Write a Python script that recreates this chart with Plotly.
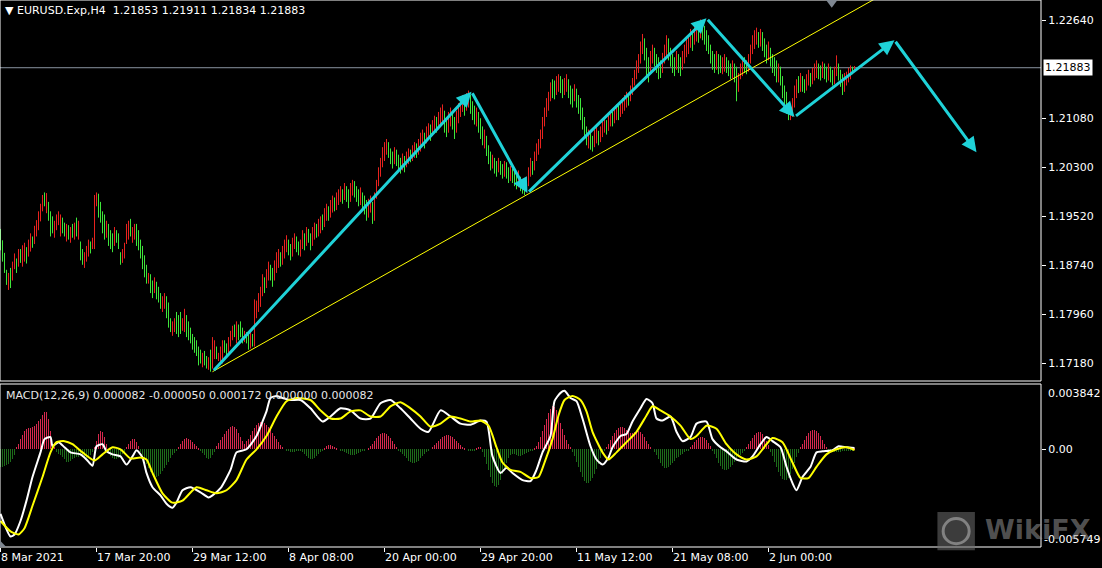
import plotly.graph_objects as go
from plotly.subplots import make_subplots

# ---------------- data ----------------
header_text = "EURUSD.Exp,H4"
last_ohlc = [1.21853, 1.21911, 1.21834, 1.21883]
current_price = 1.21883
macd_header = "MACD(12,26,9) 0.000082 -0.000050 0.000172 0.000000 0.000082"

bar_high = [
    1.1932,1.1914,1.1894,1.1867,1.1862,1.1870,1.1880,1.1893,1.1885,1.1900,
    1.1900,1.1906,1.1910,1.1903,1.1915,1.1925,1.1920,1.1937,1.1946,1.1960,
    1.1972,1.1986,1.1990,1.1989,1.1975,1.1960,1.1952,1.1945,1.1955,1.1960,
    1.1955,1.1950,1.1942,1.1940,1.1938,1.1935,1.1940,1.1942,1.1950,1.1945,
    1.1912,1.1900,1.1895,1.1905,1.1915,1.1912,1.1918,1.1986,1.1990,1.1988,
    1.1975,1.1960,1.1955,1.1945,1.1940,1.1930,1.1925,1.1935,1.1930,1.1925,
    1.1895,1.1900,1.1910,1.1940,1.1945,1.1948,1.1935,1.1940,1.1940,1.1930,
    1.1915,1.1905,1.1890,1.1875,1.1862,1.1860,1.1850,1.1855,1.1848,1.1840,
    1.1830,1.1825,1.1830,1.1825,1.1815,1.1790,1.1785,1.1790,1.1800,1.1795,
    1.1800,1.1790,1.1805,1.1795,1.1785,1.1775,1.1765,1.1760,1.1755,1.1745,
    1.1740,1.1735,1.1738,1.1730,1.1728,1.1740,1.1760,1.1755,1.1745,1.1735,
    1.1745,1.1755,1.1755,1.1750,1.1760,1.1770,1.1778,1.1780,1.1785,1.1780,
    1.1785,1.1775,1.1770,1.1768,1.1765,1.1770,1.1765,1.1820,1.1818,1.1830,
    1.1840,1.1860,1.1855,1.1868,1.1880,1.1875,1.1870,1.1882,1.1895,1.1900,
    1.1895,1.1905,1.1915,1.1922,1.1915,1.1908,1.1918,1.1925,1.1920,1.1912,
    1.1915,1.1930,1.1925,1.1935,1.1932,1.1925,1.1935,1.1942,1.1940,1.1948,
    1.1952,1.1955,1.1965,1.1972,1.1968,1.1978,1.1985,1.1982,1.1990,1.1995,
    1.2000,1.1995,1.2005,1.2000,1.1995,1.2005,1.2010,1.2008,1.2000,1.1995,
    1.1998,1.1990,1.1985,1.1978,1.1980,1.1985,1.1975,1.1990,1.2010,1.2030,
    1.2045,1.2062,1.2070,1.2075,1.2070,1.2060,1.2055,1.2062,1.2058,1.2050,
    1.2045,1.2052,1.2048,1.2055,1.2060,1.2058,1.2065,1.2070,1.2068,1.2075,
    1.2085,1.2090,1.2085,1.2095,1.2100,1.2098,1.2105,1.2112,1.2110,1.2118,
    1.2125,1.2130,1.2120,1.2110,1.2118,1.2125,1.2118,1.2110,1.2120,1.2132,
    1.2140,1.2145,1.2138,1.2148,1.2152,1.2145,1.2135,1.2128,1.2125,1.2118,
    1.2108,1.2095,1.2090,1.2080,1.2065,1.2055,1.2050,1.2045,1.2040,1.2045,
    1.2040,1.2035,1.2040,1.2038,1.2030,1.2032,1.2028,1.2025,1.2020,1.2025,
    1.2015,1.2010,1.2005,1.2015,1.2030,1.2045,1.2040,1.2055,1.2068,1.2075,
    1.2090,1.2110,1.2125,1.2140,1.2150,1.2165,1.2170,1.2168,1.2175,1.2178,
    1.2175,1.2170,1.2172,1.2178,1.2170,1.2160,1.2155,1.2162,1.2155,1.2145,
    1.2140,1.2125,1.2110,1.2095,1.2090,1.2085,1.2080,1.2090,1.2095,1.2088,
    1.2095,1.2105,1.2110,1.2105,1.2112,1.2120,1.2118,1.2125,1.2130,1.2128,
    1.2135,1.2140,1.2145,1.2150,1.2148,1.2160,1.2172,1.2185,1.2200,1.2210,
    1.2230,1.2242,1.2235,1.2220,1.2205,1.2215,1.2225,1.2220,1.2210,1.2205,
    1.2200,1.2212,1.2225,1.2240,1.2235,1.2220,1.2210,1.2205,1.2215,1.2210,
    1.2205,1.2215,1.2225,1.2235,1.2240,1.2250,1.2245,1.2255,1.2260,1.2258,
    1.2265,1.2262,1.2255,1.2248,1.2240,1.2225,1.2215,1.2210,1.2215,1.2210,
    1.2208,1.2205,1.2210,1.2205,1.2200,1.2195,1.2200,1.2195,1.2190,1.2180,
    1.2195,1.2200,1.2205,1.2200,1.2210,1.2225,1.2240,1.2248,1.2252,1.2245,
    1.2250,1.2245,1.2235,1.2225,1.2230,1.2220,1.2210,1.2205,1.2200,1.2195,
    1.2190,1.2175,1.2160,1.2150,1.2130,1.2125,1.2140,1.2160,1.2170,1.2175,
    1.2180,1.2175,1.2170,1.2178,1.2185,1.2180,1.2188,1.2195,1.2200,1.2195,
    1.2192,1.2198,1.2195,1.2190,1.2195,1.2190,1.2185,1.2190,1.2208,1.2195,
    1.2185,1.2178,1.2180,1.2182,1.2188,1.2192,1.2190,1.21911,
]
bar_low = [
    1.1898,1.1880,1.1862,1.1843,1.1835,1.1838,1.1850,1.1868,1.1862,1.1872,
    1.1878,1.1872,1.1880,1.1877,1.1888,1.1896,1.1902,1.1908,1.1920,1.1930,
    1.1944,1.1960,1.1968,1.1957,1.1945,1.1920,1.1925,1.1918,1.1930,1.1938,
    1.1920,1.1925,1.1920,1.1912,1.1915,1.1910,1.1918,1.1915,1.1920,1.1915,
    1.1882,1.1875,1.1870,1.1880,1.1888,1.1893,1.1900,1.1900,1.1968,1.1950,
    1.1942,1.1925,1.1915,1.1918,1.1905,1.1900,1.1895,1.1905,1.1910,1.1900,
    1.1875,1.1878,1.1885,1.1908,1.1915,1.1920,1.1910,1.1915,1.1905,1.1898,
    1.1885,1.1868,1.1855,1.1845,1.1845,1.1830,1.1822,1.1830,1.1820,1.1815,
    1.1805,1.1800,1.1805,1.1790,1.1775,1.1768,1.1762,1.1768,1.1765,1.1760,
    1.1765,1.1770,1.1768,1.1760,1.1755,1.1750,1.1740,1.1735,1.1730,1.1715,
    1.1718,1.1712,1.1715,1.1710,1.1708,1.1705,1.1710,1.1725,1.1725,1.1722,
    1.1720,1.1718,1.1735,1.1728,1.1735,1.1745,1.1755,1.1760,1.1750,1.1755,
    1.1760,1.1750,1.1752,1.1750,1.1740,1.1742,1.1745,1.1745,1.1790,1.1800,
    1.1808,1.1825,1.1830,1.1838,1.1850,1.1850,1.1840,1.1850,1.1862,1.1870,
    1.1872,1.1875,1.1885,1.1895,1.1890,1.1882,1.1888,1.1900,1.1895,1.1890,
    1.1888,1.1900,1.1898,1.1905,1.1910,1.1898,1.1905,1.1915,1.1918,1.1920,
    1.1925,1.1930,1.1935,1.1945,1.1945,1.1950,1.1958,1.1960,1.1962,1.1970,
    1.1975,1.1972,1.1978,1.1975,1.1965,1.1975,1.1985,1.1982,1.1975,1.1968,
    1.1970,1.1962,1.1955,1.1945,1.1950,1.1958,1.1940,1.1945,1.1980,1.2000,
    1.2015,1.2030,1.2040,1.2050,1.2045,1.2035,1.2028,1.2035,1.2032,1.2025,
    1.2020,1.2025,1.2022,1.2030,1.2035,1.2038,1.2040,1.2045,1.2045,1.2050,
    1.2055,1.2065,1.2060,1.2068,1.2075,1.2072,1.2080,1.2085,1.2085,1.2090,
    1.2095,1.2100,1.2085,1.2078,1.2085,1.2095,1.2090,1.2075,1.2085,1.2100,
    1.2110,1.2118,1.2112,1.2120,1.2125,1.2115,1.2105,1.2098,1.2095,1.2085,
    1.2075,1.2065,1.2060,1.2048,1.2035,1.2025,1.2028,1.2020,1.2015,1.2022,
    1.2018,1.2012,1.2015,1.2012,1.2005,1.2008,1.2005,1.2000,1.1995,1.1998,
    1.1992,1.1988,1.1986,1.1990,1.2000,1.2015,1.2018,1.2025,1.2040,1.2050,
    1.2060,1.2075,1.2095,1.2110,1.2120,1.2135,1.2140,1.2138,1.2145,1.2150,
    1.2148,1.2140,1.2145,1.2150,1.2140,1.2130,1.2125,1.2135,1.2125,1.2115,
    1.2105,1.2090,1.2075,1.2065,1.2060,1.2058,1.2055,1.2062,1.2068,1.2065,
    1.2070,1.2078,1.2085,1.2082,1.2088,1.2095,1.2095,1.2100,1.2105,1.2105,
    1.2110,1.2115,1.2120,1.2125,1.2128,1.2135,1.2145,1.2160,1.2170,1.2180,
    1.2195,1.2210,1.2200,1.2175,1.2165,1.2180,1.2195,1.2190,1.2180,1.2170,
    1.2172,1.2180,1.2195,1.2205,1.2200,1.2190,1.2180,1.2175,1.2185,1.2180,
    1.2175,1.2185,1.2195,1.2205,1.2210,1.2220,1.2215,1.2225,1.2230,1.2228,
    1.2235,1.2232,1.2225,1.2215,1.2210,1.2195,1.2185,1.2180,1.2185,1.2178,
    1.2180,1.2178,1.2182,1.2180,1.2175,1.2170,1.2172,1.2165,1.2135,1.2150,
    1.2170,1.2175,1.2180,1.2178,1.2182,1.2195,1.2210,1.2218,1.2225,1.2220,
    1.2222,1.2215,1.2205,1.2195,1.2200,1.2190,1.2180,1.2175,1.2165,1.2165,
    1.2160,1.2140,1.2125,1.2115,1.2105,1.2105,1.2110,1.2125,1.2140,1.2148,
    1.2150,1.2150,1.2148,1.2152,1.2160,1.2158,1.2162,1.2168,1.2172,1.2170,
    1.2168,1.2172,1.2170,1.2165,1.2168,1.2165,1.2160,1.2162,1.2175,1.2168,
    1.2158,1.2145,1.2150,1.2160,1.2165,1.2170,1.2178,1.21834,
]
# u = bullish bar, d = bearish bar
bar_dir = "".join([
    "dddduduudu", "duuduuduuu", "uududdduuu", "uddudududu", "dduuuduuud",
    "dddudddudd", "duuuuduudd", "dddduddudd", "duuddduudd", "duuddddddd",
    "dudduduudu", "uudduuudud", "ddudduduuu", "uuduudduuu", "duuudduudd",
    "uududduudu", "uduuduuduu", "ududduuddd", "uddduuduuu", "uuuudddudd",
    "duduuduudu", "uuduuduudu", "uudduudduu", "uuduudddud", "dduddduddu",
    "dduddudddu", "ddduuuduuu", "uuuuuudduu", "dduudddudd", "ddddudduud",
    "uuuduuduud", "uuuuduuuuu", "uuddduuddd", "duuuddddud", "duuuuuduud",
    "udddddddud", "duuddduddu", "uudduuuuud", "uddduddddu", "ddddduuuud",
    "udduuduuud", "duddudduud", "dduuuudu",
])

# MACD histogram, one value per bar, in units of 0.00001
macd_hist_e5 = [
    -103,-103,-96,-90,-84,-72,-60,-36, 12,30,
    60,84,109,121,127,127,133,139,151,169,181,199,217,217,181,109, 30,12,
    -18,-30,-36,-48,-60,
    -72,-72,-66,-60,-54,-48,-48,-42,-48,-54,-60,-54,-36,-18,12,
    48,90,109,103,72,30,
    -24,-42,-54,-60,-60,-54,-42,-30,-18,
    12,30,48,60,60,42,18,
    -18,-36,-60,-84,-109,-133,-151,-163,-163,-157,-145,-127,-109,-90,-72,-54,-36,-24,-12,
    12,30,48,60,66,60,54,42,30,18,6,
    -12,-24,-36,-54,-60,-54,-36,-18,
    18,36,54,72,90,109,121,133,139,133,121,96,72,48,30,
    48,60,84,109,127,145,157,163,163,157,145,133,115,96,78,60,42,24,12,0,
    -6,-12,-18,-18,-18,-12,-12,-6,
    -18,-30,-42,-54,-60,-60,-54,-42,-30,-18,
    -6,6,18,24,24,18,12,6,0,-6,
    -12,-18,-24,-30,-36,-36,-36,-30,-24,-18,-12,-6,0,6,18,
    30,48,66,78,90,96,96,90,78,66,48,30,12,
    -6,-18,-30,-42,-54,-66,-72,-78,-78,-72,-66,-54,-42,-30,-18,-6,0,
    12,24,36,48,60,72,78,84,84,78,72,60,48,36,24,12,6,0,-6,
    -12,-12,-6,6,12,12,
    -18,-48,-84,-121,-163,-199,-217,-223,-211,-181,-145,-109,-78,-54,-36,
    -30,-30,-36,-42,-42,-36,-30,-24,-18,-12,-6,6,
    18,42,72,109,145,181,211,235,253,247,229,193,157,121,84,54,30,12,
    -18,-42,-72,-103,-133,-163,-187,-199,-199,-187,-169,-145,-115,-84,-54,-30,-12,
    12,30,54,78,96,115,127,133,133,127,115,103,96,96,103,109,109,103,90,72,48,30,12,0,
    -18,-36,-60,-78,-96,-109,-109,-103,-90,-78,-66,-54,-48,-36,-30,-18,-12,-6,
    12,24,42,54,66,72,72,66,54,36,18,
    -12,-30,-54,-78,-96,-115,-121,-121,-115,-103,-90,-72,-60,-48,-36,-24,-12,
    12,30,48,66,84,96,103,103,90,72,48,24,
    -18,-42,-72,-103,-133,-157,-175,-181,-181,-169,-145,-115,-78,-48,-24,
    12,30,54,78,96,109,115,115,109,96,78,54,30,12,
    -6,-12,-18,-18,-18,-18,-18,-12,-12,-12,-12,-6,-6,8,
]

# MACD main (white) and signal (yellow) lines, read at selected bars, units of 0.00001
macd_main_bar = [0,5,7,10,13,16,20,22,25,26,29,32,35,40,43,46,48,51,53,56,60,63,66,68,71,73,76,80,83,86,88,91,95,100,104,106,110,115,118,123,128,131,133,135,138,141,145,150,155,161,165,170,175,180,185,190,195,200,205,210,214,220,225,230,235,240,243,246,250,253,256,261,265,268,271,275,277,280,282,285,288,291,295,298,301,304,306,310,313,316,320,323,326,328,331,335,338,341,345,348,353,356,360,363,368,373,376,380,383,386,390,393,396,398,401,405,408,411,416,419,423,427]
macd_main_e5 = [-380,-513,-501,-422,-302,-163,-18,60,72,18,42,12,-18,-30,-60,-97,18,30,-12,-30,-42,-90,-42,-6,-48,-139,-223,-271,-320,-344,-314,-241,-223,-253,-283,-271,-229,-121,-18,0,78,163,223,302,314,302,290,290,241,163,193,241,229,181,181,271,290,241,181,121,103,229,193,151,145,169,163,-42,-139,-109,-139,-181,-187,-121,-18,78,283,332,344,302,283,181,18,-60,-90,-48,12,78,90,163,241,296,271,181,169,193,103,48,72,151,163,60,12,-12,-60,-72,-42,30,72,48,12,-103,-199,-241,-163,-103,-18,-12,-6,18,12,8]
macd_signal_bar = [0,5,9,12,16,21,25,28,32,36,41,47,51,56,60,65,70,73,76,81,86,91,98,103,108,113,118,123,128,133,138,143,148,155,160,165,170,175,180,185,190,195,200,205,210,215,220,225,230,235,240,244,248,251,255,260,265,269,272,276,279,282,286,290,293,296,301,304,308,313,318,323,326,330,335,340,345,348,353,358,363,368,373,378,383,386,391,396,400,404,408,413,418,423,427]
macd_signal_e5 = [-422,-483,-501,-464,-332,-163,-18,42,48,30,-18,-66,-30,12,0,-54,-48,-60,-139,-259,-314,-302,-223,-241,-259,-241,-181,-60,0,78,193,283,302,290,229,181,181,223,229,193,193,253,277,241,193,133,151,193,181,163,169,139,12,-78,-121,-133,-169,-163,-78,60,199,290,314,290,223,103,-18,-60,-18,42,103,199,253,229,193,139,60,78,139,121,30,-30,-60,-42,30,66,42,-78,-169,-169,-103,-30,0,12,-5]

# x-axis labels (bar index -> time label)
time_tick_bars = [0, 48, 96, 144, 192, 240, 288, 336, 384]
time_tick_text = ["8 Mar 2021", "17 Mar 20:00", "29 Mar 12:00", "8 Apr 08:00", "20 Apr 00:00",
                  "29 Apr 20:00", "11 May 12:00", "21 May 08:00", "2 Jun 00:00"]
price_ticks = [1.22640, 1.21080, 1.20300, 1.19520, 1.18740, 1.17960, 1.17180]
macd_scale_max = 0.003842
macd_scale_min = -0.005749

# drawing objects: trendline anchors and the forecast arrow path (bar index, price)
trend_bars = [106, 263]
trend_prices = [1.1705, 1.1986]
arrow_bars = [106, 235.5, 263.5, 353, 397, 447, 488]
arrow_prices = [1.1705, 1.2150, 1.1989, 1.2267, 1.2110, 1.2232, 1.2054]

# ---------------- styling ----------------
FONT = "DejaVu Sans"
UP_COL = "#e8221e"
DN_COL = "#3ee63a"
CYAN = "#1fd2d8"
W, H = 1102, 568
M_L, M_R, M_T, M_B = 0, 61, 0, 21
plot_h = H - M_T - M_B
price_dom = [(plot_h - 381) / plot_h, 1.0]
macd_dom = [0.0, (plot_h - 384) / plot_h]
price_range = [1.16902, 1.2296]
x_range = [-0.25, 520.25]

fig = make_subplots(rows=2, cols=1, shared_xaxes=True, vertical_spacing=0)

# price bars (high-low segments, split by direction)
for flag, col in (("u", UP_COL), ("d", DN_COL)):
    xs, ys = [], []
    for i, (hi, lo, d) in enumerate(zip(bar_high, bar_low, bar_dir)):
        if d == flag:
            xs += [i, i, None]
            ys += [lo, hi, None]
    fig.add_trace(go.Scatter(x=xs, y=ys, mode="lines", line=dict(color=col, width=1),
                             hoverinfo="skip", showlegend=False), row=1, col=1)

# trendline (ray through two anchors)
slope = (trend_prices[1] - trend_prices[0]) / (trend_bars[1] - trend_bars[0])
ray_end = x_range[1]
fig.add_trace(go.Scatter(x=[trend_bars[0], ray_end],
                         y=[trend_prices[0], trend_prices[0] + slope * (ray_end - trend_bars[0])],
                         mode="lines", line=dict(color="#ffff00", width=1),
                         hoverinfo="skip", showlegend=False), row=1, col=1)

# MACD histogram
hist_vals = [v * 1e-5 for v in macd_hist_e5]
fig.add_trace(go.Bar(x=list(range(len(hist_vals))), y=hist_vals, width=0.5,
                     marker=dict(color=["#d8284e" if v >= 0 else "#1d6b1a" for v in hist_vals],
                                 line=dict(width=0)),
                     hoverinfo="skip", showlegend=False), row=2, col=1)
fig.add_trace(go.Scatter(x=macd_main_bar, y=[v * 1e-5 for v in macd_main_e5], mode="lines",
                         line=dict(color="#ffffff", width=2, shape="spline", smoothing=0.6),
                         hoverinfo="skip", showlegend=False), row=2, col=1)
fig.add_trace(go.Scatter(x=macd_signal_bar, y=[v * 1e-5 for v in macd_signal_e5], mode="lines",
                         line=dict(color="#ffff00", width=2, shape="spline", smoothing=0.6),
                         hoverinfo="skip", showlegend=False), row=2, col=1)

shapes = [
    # current price line
    dict(type="line", xref="paper", x0=0, x1=1, yref="y", y0=current_price, y1=current_price,
         line=dict(color="#8a94a0", width=1), layer="below"),
    # panel frames
    dict(type="rect", xref="paper", yref="paper", x0=0, x1=1, y0=price_dom[0], y1=1,
         line=dict(color="#ffffff", width=1)),
    dict(type="rect", xref="paper", yref="paper", x0=0, x1=1, y0=0, y1=macd_dom[1],
         line=dict(color="#ffffff", width=1)),
    # chart shift marker
    dict(type="path", xref="paper", yref="paper",
         path="M 0.7935 1 L 0.8045 1 L 0.799 0.986 Z", fillcolor="#7f8791", line=dict(width=0)),
    dict(type="path", xref="paper", yref="paper",
         path="M 0 0.012 L 0 0 L 0.006 0 Z", fillcolor="#7f8791", line=dict(width=0)),
    # watermark logo
    dict(type="rect", xref="paper", yref="paper", x0=0.9005, x1=0.9365, y0=-0.006, y1=0.064,
         fillcolor="rgba(110,110,110,0.55)", line=dict(width=0)),
    dict(type="circle", xref="paper", yref="paper", x0=0.906, x1=0.931, y0=0.006, y1=0.052,
         line=dict(color="rgba(200,200,200,0.5)", width=3)),
]

annotations = [
    dict(xref="paper", yref="paper", x=0, y=1, xanchor="left", yanchor="top", xshift=3, yshift=-2,
         text="▼\u00a0" + header_text + "\u00a0\u00a0" + " ".join(f"{v:.5f}" for v in last_ohlc),
         showarrow=False, font=dict(family=FONT, size=11, color="#ffffff")),
    dict(xref="paper", yref="paper", x=0, y=macd_dom[1], xanchor="left", yanchor="top",
         xshift=4, yshift=-3, text=macd_header, showarrow=False,
         font=dict(family=FONT, size=11, color="#e6e6e6")),
    dict(xref="paper", yref="y", x=1, y=current_price, xanchor="left", yanchor="middle", xshift=2,
         text=f"{current_price:.5f}", showarrow=False, bgcolor="#ffffff", borderpad=1,
         font=dict(family=FONT, size=11, color="#000000")),
    dict(xref="paper", yref="y2", x=1, y=macd_scale_max, xanchor="left", yanchor="middle",
         xshift=5, yshift=-9, text=f"{macd_scale_max:.6f}", showarrow=False,
         font=dict(family=FONT, size=11, color="#ffffff")),
    dict(xref="paper", yref="y2", x=1, y=macd_scale_min, xanchor="left", yanchor="middle",
         xshift=1, yshift=8, text=f"{macd_scale_min:.6f}", showarrow=False,
         font=dict(family=FONT, size=11, color="#ffffff")),
    dict(xref="paper", yref="paper", x=0.944, y=0.032, xanchor="left", yanchor="middle",
         text="<b>WikiFX</b>", showarrow=False,
         font=dict(family=FONT, size=27, color="rgba(150,150,150,0.55)")),
]
# forecast arrows
for k in range(1, len(arrow_bars)):
    annotations.append(dict(xref="x", yref="y", axref="x", ayref="y",
                            x=arrow_bars[k], y=arrow_prices[k],
                            ax=arrow_bars[k - 1], ay=arrow_prices[k - 1],
                            text="", showarrow=True, arrowhead=2, arrowsize=1.0,
                            arrowwidth=3, arrowcolor=CYAN, standoff=0, startstandoff=0))

fig.update_layout(
    width=W, height=H, margin=dict(l=M_L, r=M_R, t=M_T, b=M_B, autoexpand=False),
    paper_bgcolor="#000000", plot_bgcolor="#000000", bargap=0,
    font=dict(family=FONT, size=11, color="#ffffff"),
    shapes=shapes, annotations=annotations, showlegend=False,
)
fig.update_xaxes(range=x_range, showgrid=False, zeroline=False, showline=False, automargin=False)
fig.update_xaxes(showticklabels=False, ticks="", row=1, col=1)
fig.update_xaxes(tickmode="array", tickvals=time_tick_bars, ticktext=time_tick_text,
                 ticks="outside", ticklen=4, tickcolor="#ffffff", ticklabelposition="outside right",
                 tickfont=dict(family=FONT, size=11, color="#ffffff"), row=2, col=1)
fig.update_layout(
    yaxis=dict(domain=price_dom, range=price_range, side="right", showgrid=False, zeroline=False,
               automargin=False,
               tickmode="array", tickvals=price_ticks, ticktext=[f"{v:.5f}" for v in price_ticks],
               ticks="outside", ticklen=4, tickcolor="#ffffff",
               tickfont=dict(family=FONT, size=11, color="#ffffff")),
    yaxis2=dict(domain=macd_dom, range=[macd_scale_min, macd_scale_max], side="right",
                automargin=False,
                showgrid=False, zeroline=False, tickmode="array", tickvals=[0], ticktext=["0.00"],
                ticks="outside", ticklen=4, tickcolor="#ffffff",
                tickfont=dict(family=FONT, size=11, color="#ffffff")),
)

fig.write_html(
    "out.html",
    config={"displayModeBar": False},
    post_script="document.body.style.margin='0';document.body.style.background='#000';",
)
